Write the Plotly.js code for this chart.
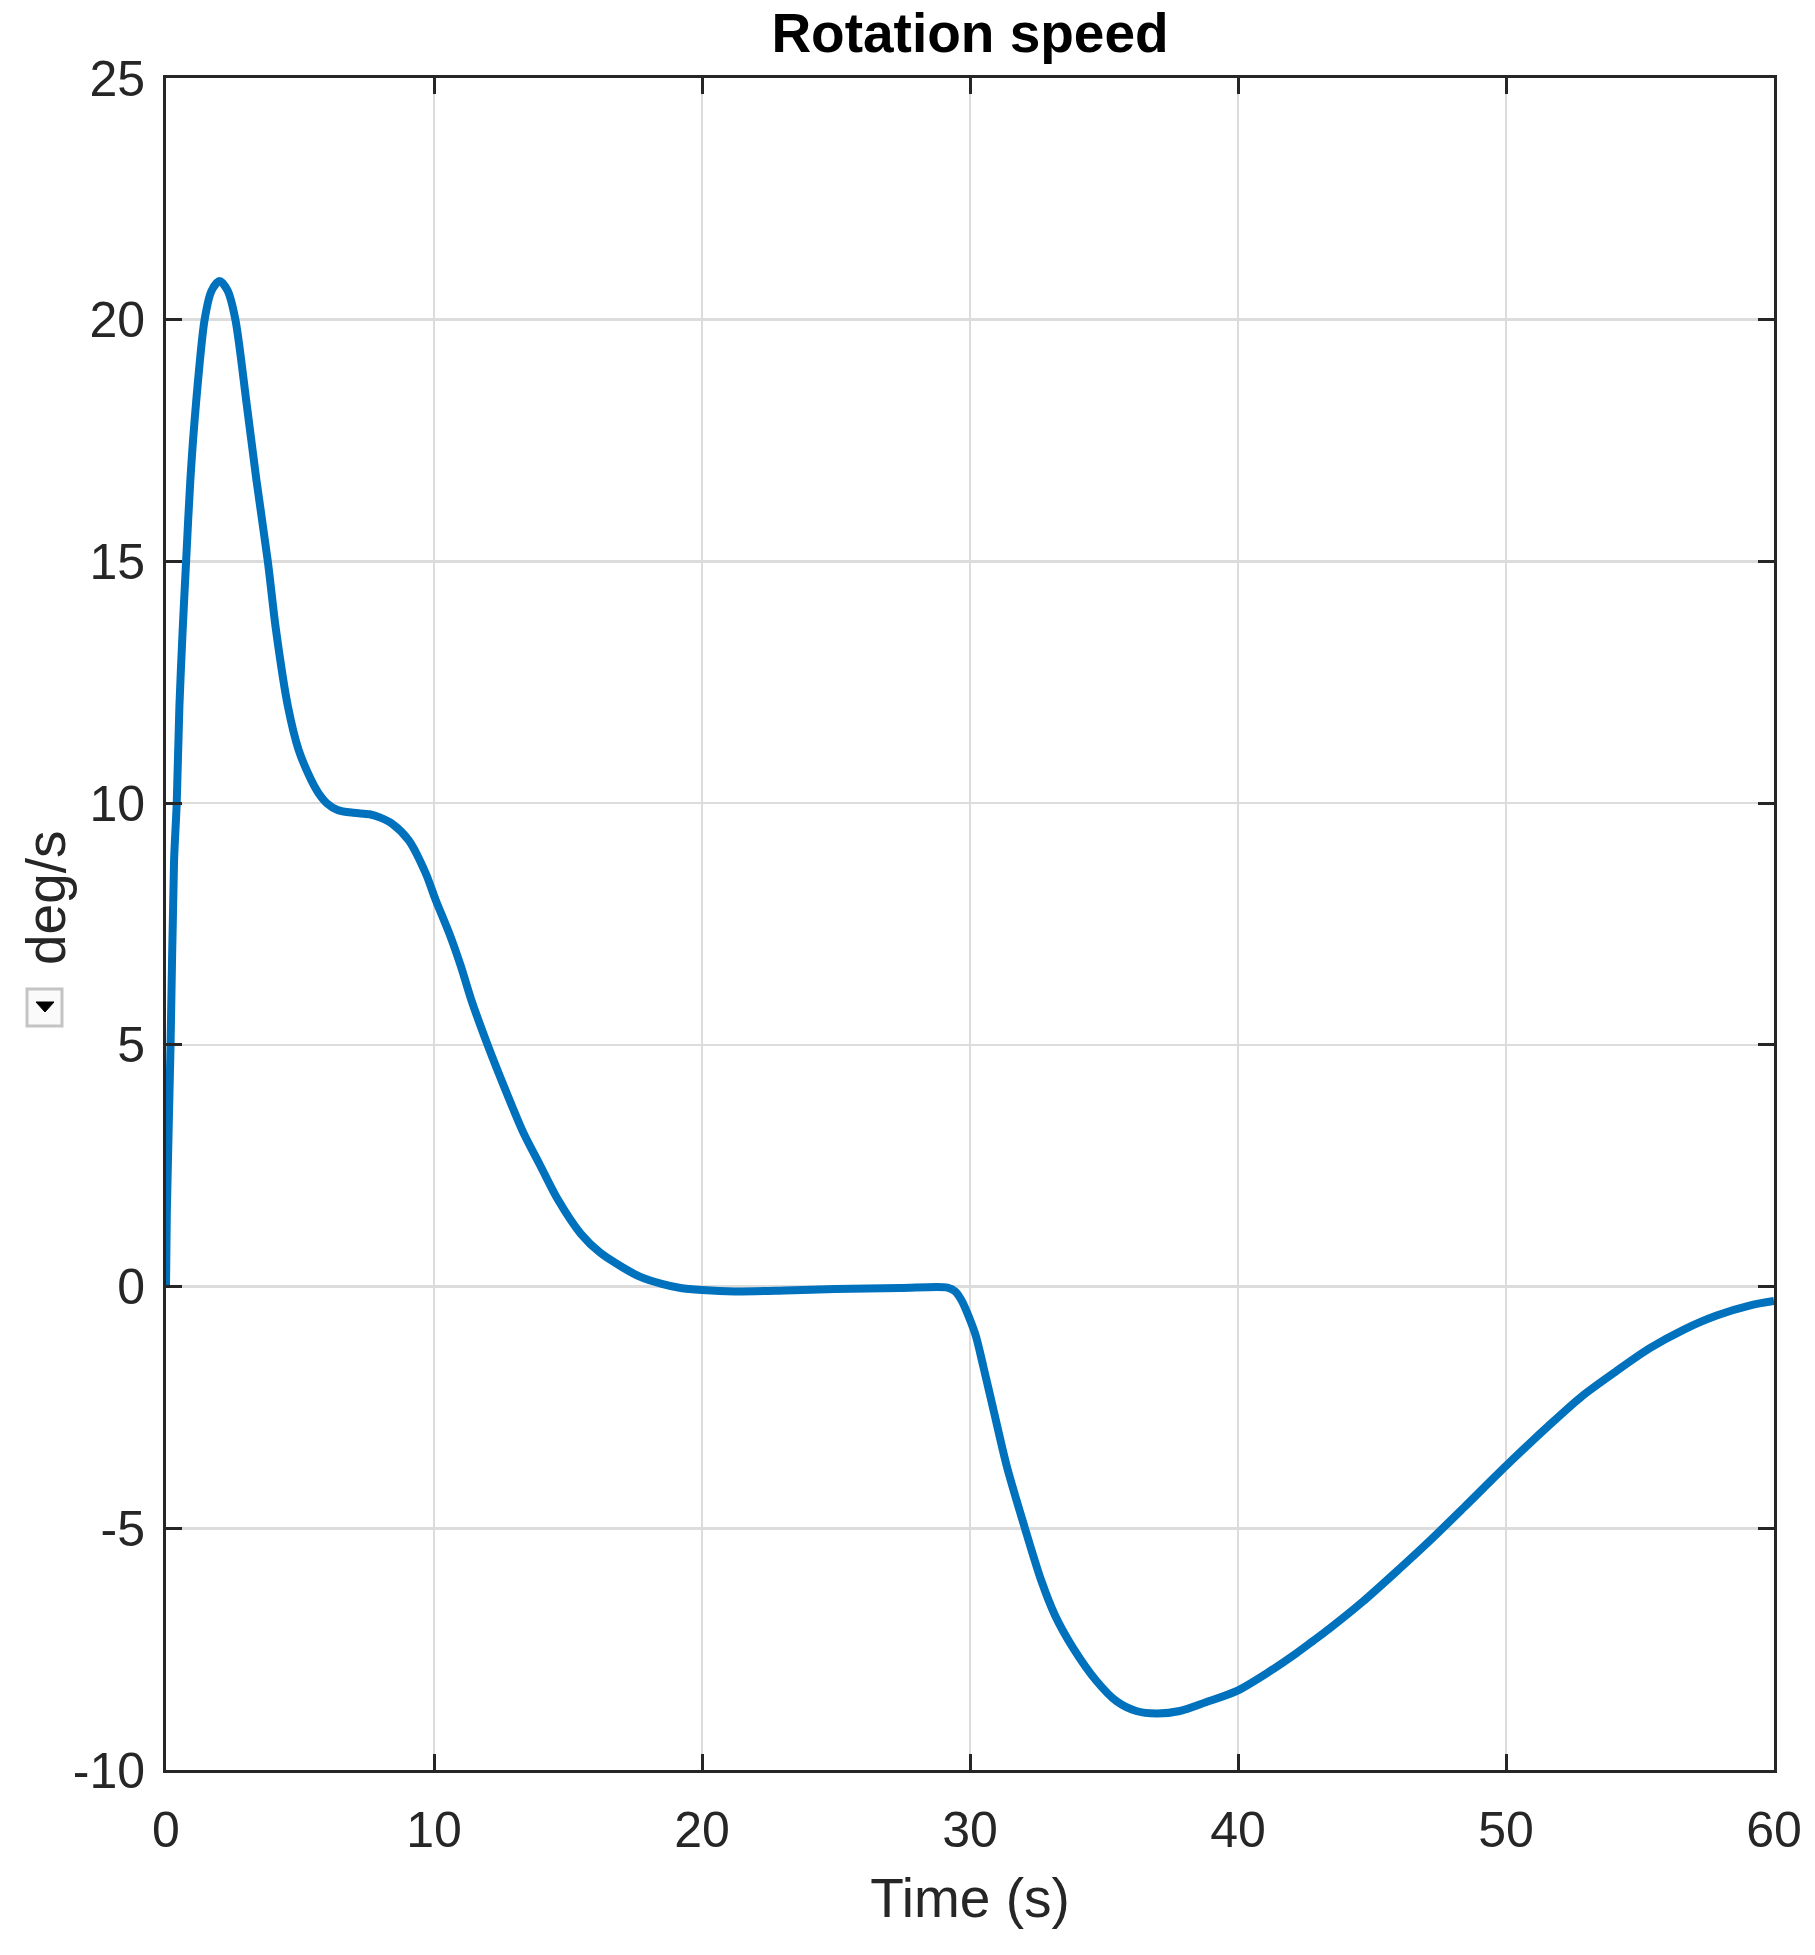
<!DOCTYPE html>
<html>
<head>
<meta charset="utf-8">
<script src="https://cdn.plot.ly/plotly-3.0.1.min.js"></script>
<style>html,body{margin:0;padding:0;background:#fff;}#chart{width:1815px;height:1955px;}</style>
</head>
<body>
<div id="chart"></div>
<script>
// Time (s)
const time = [0, 0.03, 0.17, 0.3, 0.4, 0.5, 0.62, 0.75, 0.91, 1.12, 1.44, 1.7, 2.0, 2.3, 2.59, 3.0, 3.37, 3.8, 4.1, 4.55, 4.95, 5.4, 5.7, 6.0, 6.4, 7.0, 7.6, 8.0, 8.45, 9.06, 9.69, 10.06, 10.56, 11.0, 11.38, 12.0, 12.7, 13.32, 13.95, 14.6, 15.48, 16.2, 17.03, 17.7, 18.5, 19.2, 20, 21.2, 23.1, 24.95, 27.4, 29.16, 29.45, 29.69, 30.19, 30.5, 30.93, 31.37, 32.05, 32.67, 33.17, 33.85, 34.72, 35.47, 36.2, 36.96, 37.83, 38.8, 39.94, 41.18, 42.14, 42.8, 43.4, 44.65, 46.0, 47.17, 48.43, 50, 51.57, 52.83, 54.09, 55.35, 56.6, 57.86, 59.12, 60];
// Rotation speed (deg/s)
const speed = [0, 1.5, 5, 8.8, 10, 12, 13.56, 15, 16.7, 18.27, 20, 20.6, 20.8, 20.6, 20, 18.3, 16.7, 15, 13.6, 12, 11.1, 10.5, 10.2, 10.0, 9.86, 9.8, 9.77, 9.7, 9.57, 9.23, 8.55, 8.0, 7.32, 6.63, 5.95, 5.0, 4.02, 3.2, 2.52, 1.82, 1.09, 0.7, 0.4, 0.2, 0.055, -0.03, -0.07, -0.1, -0.08, -0.05, -0.03, -0.02, -0.1, -0.29, -0.97, -1.66, -2.68, -3.71, -5.0, -6.1, -6.8, -7.48, -8.16, -8.58, -8.78, -8.83, -8.78, -8.6, -8.37, -7.96, -7.6, -7.33, -7.08, -6.52, -5.85, -5.25, -4.57, -3.71, -2.89, -2.27, -1.76, -1.28, -0.9, -0.6, -0.39, -0.3];

const xTickVals = [0, 10, 20, 30, 40, 50, 60];
const xTickText = ["0", "10", "20", "30", "40", "50", "60"];
const yTickVals = [-10, -5, 0, 5, 10, 15, 20, 25];
const yTickText = ["-10", "-5", "0", "5", "10", "15", "20", "25"];

const FONT = "Liberation Sans, Arial, Helvetica, sans-serif";
const AX = "#262626";

const trace = {
  x: time, y: speed, type: "scatter", mode: "lines",
  line: {color: "#0072BD", width: 8, shape: "spline", smoothing: 0.8},
  hoverinfo: "skip", showlegend: false
};

const axisCommon = {
  showline: true, linecolor: AX, linewidth: 3, mirror: "ticks",
  ticks: "inside", ticklen: 16, tickwidth: 3, tickcolor: AX,
  showgrid: true, gridcolor: "#dcdcdc", gridwidth: 2.5,
  zeroline: false, tickfont: {family: FONT, size: 50, color: AX},
  fixedrange: true
};

const layout = {
  width: 1815, height: 1955,
  margin: {l: 166, r: 41, t: 78, b: 185},
  paper_bgcolor: "#ffffff", plot_bgcolor: "#ffffff",
  title: {text: "<b>Rotation speed</b>", font: {family: FONT, size: 55, color: "#000000"},
          x: 0.5, xref: "paper", xanchor: "center", y: 1 - 33/1955, yref: "container", yanchor: "middle"},
  xaxis: Object.assign({}, axisCommon, {
    range: [0, 60], tickmode: "array", tickvals: xTickVals, ticktext: xTickText,
    ticklabelstandoff: 14,
    title: {text: "Time (s)", font: {family: FONT, size: 55, color: AX}, standoff: 22}
  }),
  yaxis: Object.assign({}, axisCommon, {
    range: [-10, 25], tickmode: "array", tickvals: yTickVals, ticktext: yTickText,
    ticklabelstandoff: 8
  }),
  annotations: [{
    text: "deg/s", textangle: -90, showarrow: false,
    xref: "paper", yref: "paper", x: (46 - 166) / 1608, y: (1770 - 898) / 1692,
    xanchor: "center", yanchor: "middle",
    font: {family: FONT, size: 55, color: AX}
  }],
  shapes: [
    {type: "rect", xref: "paper", yref: "paper",
     x0: (27 - 166) / 1608, x1: (62 - 166) / 1608, y0: (1770 - 1026) / 1692, y1: (1770 - 989) / 1692,
     line: {color: "#c4c4c4", width: 3}, fillcolor: "#fafafa", layer: "above"},
    {type: "path", xref: "paper", yref: "paper",
     path: "M " + ((36 - 166) / 1608) + " " + ((1770 - 1002) / 1692) + " L " + ((54 - 166) / 1608) + " " + ((1770 - 1002) / 1692) + " L " + ((45 - 166) / 1608) + " " + ((1770 - 1012) / 1692) + " Z",
     line: {color: "#000000", width: 1}, fillcolor: "#000000", layer: "above"}
  ]
};

Plotly.newPlot("chart", [trace], layout, {staticPlot: true, displayModeBar: false});
</script>
</body>
</html>
